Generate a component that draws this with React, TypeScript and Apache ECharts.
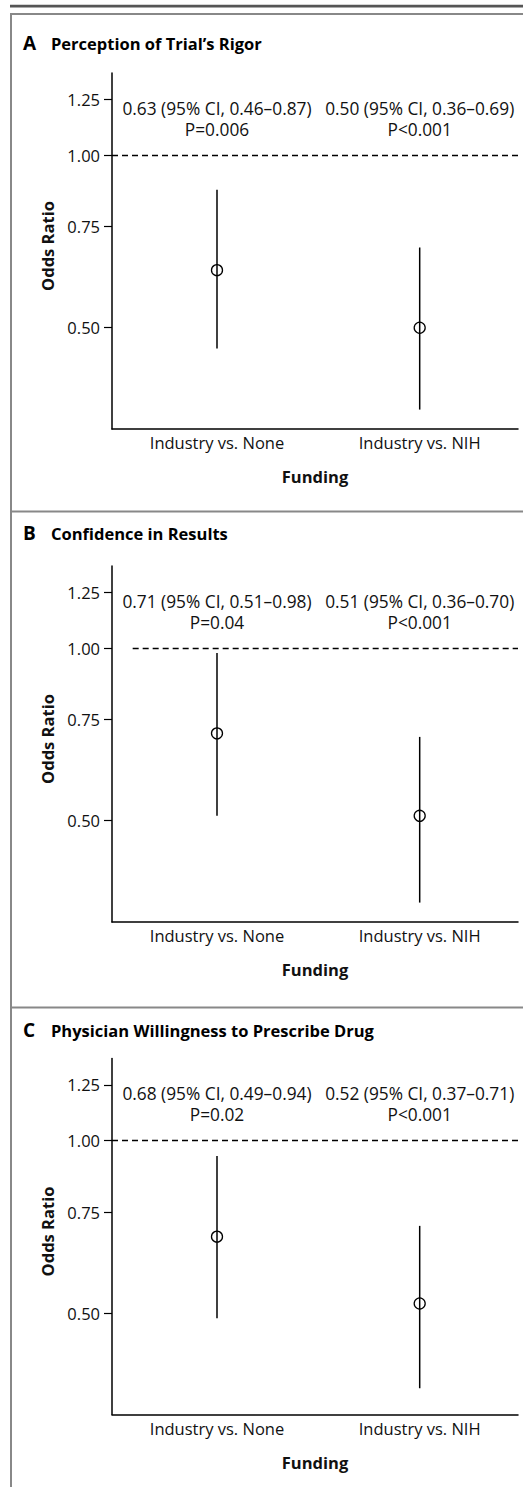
import React, { useEffect, useRef } from "react";
import * as echarts from "echarts";

// ---- data ----
const comparisons = ["Industry vs. None", "Industry vs. NIH"];
const comparisonPos = [1, 2];
const panelLetters = ["A", "B", "C"];
const panelTitles = [
  "Perception of Trial\u2019s Rigor",
  "Confidence in Results",
  "Physician Willingness to Prescribe Drug",
];
const oddsA = [0.63, 0.5];
const lowA = [0.46, 0.36];
const highA = [0.87, 0.69];
const pA = ["P=0.006", "P<0.001"];
const oddsB = [0.71, 0.51];
const lowB = [0.51, 0.36];
const highB = [0.98, 0.7];
const pB = ["P=0.04", "P<0.001"];
const oddsC = [0.68, 0.52];
const lowC = [0.49, 0.37];
const highC = [0.94, 0.71];
const pC = ["P=0.02", "P<0.001"];
const yTickValues = [0.5, 0.75, 1.0, 1.25];
const yTickLabels = ["0.50", "0.75", "1.00", "1.25"];
const referenceOR = 1.0;
const yAxisTitle = "Odds Ratio";
const xAxisTitle = "Funding";

// ---- layout ----
const FONT = "'Open Sans', 'Noto Sans', sans-serif";
const TXT = "#111";
const Y_MIN = 0.333;
const Y_MAX = 1.39;
const X_MIN = 0.482;
const X_MAX = 2.485;
const GRID_LEFT = 112;
const GRID_W = 406;
const GRID_H = 356;
const gridTops = [73, 566, 1058.5];
const titleYs = [43, 533, 1030];
const separatorYs = [14, 511.5, 1007.5];
const dashStarts = [X_MIN, 0.584, X_MIN];

function buildOption() {
  const panels = [
    { odds: oddsA, low: lowA, high: highA, p: pA },
    { odds: oddsB, low: lowB, high: highB, p: pB },
    { odds: oddsC, low: lowC, high: highC, p: pC },
  ];
  const lnTicks = yTickValues.map((v) => Math.log(v));
  const yFmt = (v: number) => {
    const i = lnTicks.findIndex((t) => Math.abs(t - v) < 1e-6);
    return i >= 0 ? yTickLabels[i] : "";
  };

  const grids = gridTops.map((top) => ({
    left: GRID_LEFT,
    top,
    width: GRID_W,
    height: GRID_H,
  }));

  const xAxes = panels.map((_, i) => ({
    type: "value",
    gridIndex: i,
    min: X_MIN,
    max: X_MAX,
    axisLine: { show: true, onZero: false, lineStyle: { color: "#000", width: 1.5 } },
    axisTick: { show: false },
    splitLine: { show: false },
    axisLabel: {
      customValues: comparisonPos,
      formatter: (v: number) => comparisons[Math.round(v) - 1] ?? "",
      fontSize: 16.5,
      fontFamily: FONT,
      color: TXT,
      margin: 5,
    },
    name: xAxisTitle,
    nameLocation: "middle",
    nameGap: 39,
    nameTextStyle: { fontSize: 16.5, fontWeight: "bold", fontFamily: FONT, color: TXT },
  }));

  const yAxes = panels.map((_, i) => ({
    type: "value",
    gridIndex: i,
    min: Math.log(Y_MIN),
    max: Math.log(Y_MAX),
    axisLine: { show: true, onZero: false, lineStyle: { color: "#000", width: 1.5 } },
    axisTick: {
      show: true,
      length: 8,
      customValues: lnTicks,
      lineStyle: { color: "#000", width: 1.2 },
    },
    splitLine: { show: false },
    axisLabel: {
      customValues: lnTicks,
      formatter: yFmt,
      fontSize: 16.5,
      fontFamily: FONT,
      color: TXT,
      margin: 12,
    },
  }));

  const series = panels.map((pn, i) => ({
    type: "custom",
    xAxisIndex: i,
    yAxisIndex: i,
    data: pn.odds.map((o, k) => [
      comparisonPos[k],
      Math.log(o),
      Math.log(pn.low[k]),
      Math.log(pn.high[k]),
      k,
    ]),
    renderItem: (params: any, api: any) => {
      const x = api.value(0);
      const k = api.value(4);
      const p = api.coord([x, api.value(1)]);
      const pl = api.coord([x, api.value(2)]);
      const ph = api.coord([x, api.value(3)]);
      const top = api.coord([x, Math.log(Y_MAX)])[1];
      const line1 = `${pn.odds[k].toFixed(2)} (95% CI, ${pn.low[k].toFixed(2)}\u2013${pn.high[k].toFixed(2)})`;
      return {
        type: "group",
        children: [
          {
            type: "line",
            shape: { x1: pl[0], y1: pl[1], x2: ph[0], y2: ph[1] },
            style: { stroke: "#000", lineWidth: 1.5 },
          },
          {
            type: "circle",
            shape: { cx: p[0], cy: p[1], r: 5.5 },
            style: { fill: "none", stroke: "#000", lineWidth: 1.3 },
          },
          {
            type: "text",
            x: p[0],
            y: top + 35,
            style: {
              text: line1,
              fill: TXT,
              fontSize: 17.3,
              fontFamily: FONT,
              align: "center",
              verticalAlign: "middle",
            },
          },
          {
            type: "text",
            x: p[0],
            y: top + 56,
            style: {
              text: pn.p[k],
              fill: TXT,
              fontSize: 17.3,
              fontFamily: FONT,
              align: "center",
              verticalAlign: "middle",
            },
          },
        ],
      };
    },
    markLine: {
      silent: true,
      symbol: ["none", "none"],
      label: { show: false },
      lineStyle: { color: "#000", type: [6, 4], width: 1.3 },
      data: [
        [
          { coord: [dashStarts[i], Math.log(referenceOR)] },
          { coord: [X_MAX, Math.log(referenceOR)] },
        ],
      ],
    },
  }));

  const graphics: any[] = [
    { type: "rect", shape: { x: 10, y: 4.8, width: 513, height: 2.6 }, style: { fill: "#555" } },
    {
      type: "line",
      shape: { x1: 11, y1: separatorYs[0] - 1, x2: 11, y2: 1487 },
      style: { stroke: "#888", lineWidth: 2 },
    },
  ];
  separatorYs.forEach((y) => {
    graphics.push({
      type: "line",
      shape: { x1: 10, y1: y, x2: 523, y2: y },
      style: { stroke: "#888", lineWidth: 2 },
    });
  });
  panelTitles.forEach((t, i) => {
    graphics.push({
      type: "text",
      x: 23,
      y: titleYs[i],
      style: {
        text: panelLetters[i],
        fill: "#000",
        fontSize: 19,
        fontWeight: "bold",
        fontFamily: FONT,
        align: "left",
        verticalAlign: "middle",
      },
    });
    graphics.push({
      type: "text",
      x: 51,
      y: titleYs[i],
      style: {
        text: t,
        fill: "#000",
        fontSize: 16.5,
        fontWeight: "bold",
        fontFamily: FONT,
        align: "left",
        verticalAlign: "middle",
      },
    });
    graphics.push({
      type: "text",
      x: 47,
      y: gridTops[i] + GRID_H / 2 - 5,
      rotation: Math.PI / 2,
      style: {
        text: yAxisTitle,
        fill: TXT,
        fontSize: 16.5,
        fontWeight: "bold",
        fontFamily: FONT,
        align: "center",
        verticalAlign: "middle",
      },
    });
  });

  return {
    animation: false,
    backgroundColor: "#fff",
    grid: grids,
    xAxis: xAxes,
    yAxis: yAxes,
    series,
    graphic: graphics,
  };
}

export default function App() {
  const ref = useRef<HTMLDivElement>(null);
  useEffect(() => {
    if (!ref.current) return;
    const chart = echarts.init(ref.current, undefined, { renderer: "svg" });
    chart.setOption(buildOption() as any);
    return () => chart.dispose();
  }, []);
  return (
    <div
      ref={ref}
      style={{ position: "fixed", left: 0, top: 0, width: 523, height: 1487, background: "#fff" }}
    />
  );
}
